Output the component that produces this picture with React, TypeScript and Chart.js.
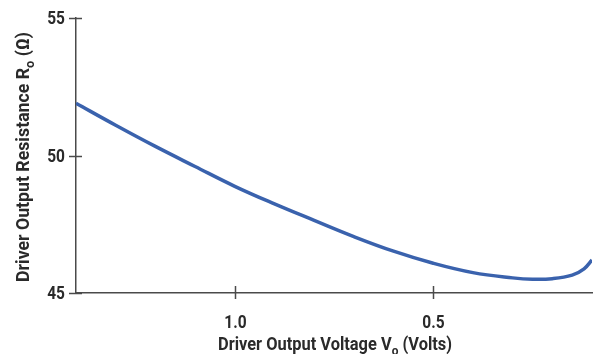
import React, { useEffect, useRef } from "react";
import { Chart, registerables } from "chart.js";

Chart.register(...registerables);

const voltage = [1.4, 1.3, 1.2, 1.1, 1.0, 0.9, 0.8, 0.7, 0.6, 0.5, 0.4, 0.3, 0.25, 0.2, 0.15, 0.12, 0.1];
const resistance = [51.9, 51.1, 50.33, 49.6, 48.88, 48.24, 47.64, 47.05, 46.52, 46.08, 45.74, 45.55, 45.5, 45.52, 45.65, 45.88, 46.2];
const xTicks = [1.0, 0.5];
const yTicks = [45, 50, 55];
const xTitle = [["Driver Output Voltage V", false], ["o", true], [" (Volts)", false]] as [string, boolean][];
const yTitle = [["Driver Output Resistance R", false], ["o", true], [" (Ω)", false]] as [string, boolean][];

const FONT = "Roboto, 'Liberation Sans', sans-serif";
const TEXT = "#2a2a2a";
const AXIS = "#4a4a4a";

function drawRich(ctx: CanvasRenderingContext2D, parts: [string, boolean][], size: number, target: number) {
  const big = `bold ${size}px ${FONT}`;
  const small = `bold ${Math.round(size * 0.72)}px ${FONT}`;
  let total = 0;
  const widths = parts.map(([t, sub]) => {
    ctx.font = sub ? small : big;
    const w = ctx.measureText(t).width;
    total += w;
    return w;
  });
  ctx.scale(target / total, 1);
  let x = -total / 2;
  parts.forEach(([t, sub], i) => {
    ctx.font = sub ? small : big;
    ctx.fillText(t, x, sub ? size * 0.28 : 0);
    x += widths[i];
  });
}

const decorPlugin = {
  id: "decor",
  afterDraw(chart: any) {
    const { ctx, chartArea, scales } = chart;
    ctx.save();
    ctx.strokeStyle = AXIS;
    ctx.lineWidth = 1.5;
    ctx.fillStyle = TEXT;
    xTicks.forEach((v) => {
      const px = Math.round(scales.x.getPixelForValue(v)) + 0.5;
      ctx.beginPath();
      ctx.moveTo(px, chartArea.bottom - 7);
      ctx.lineTo(px, chartArea.bottom + 6);
      ctx.stroke();
      ctx.save();
      ctx.translate(px, 328);
      ctx.scale(0.86, 1);
      ctx.font = `bold 18px ${FONT}`;
      ctx.textAlign = "center";
      ctx.textBaseline = "alphabetic";
      ctx.fillText(v.toFixed(1), 0, 0);
      ctx.restore();
    });
    yTicks.forEach((v) => {
      const py = Math.round(scales.y.getPixelForValue(v)) + 0.5;
      ctx.beginPath();
      ctx.moveTo(chartArea.left - 7, py);
      ctx.lineTo(chartArea.left + 6, py);
      ctx.stroke();
      ctx.save();
      ctx.translate(chartArea.left - 11, py + 1);
      ctx.scale(0.86, 1);
      ctx.font = `bold 18px ${FONT}`;
      ctx.textAlign = "right";
      ctx.textBaseline = "middle";
      ctx.fillText(String(v), 0, 0);
      ctx.restore();
    });
    ctx.textBaseline = "alphabetic";
    ctx.textAlign = "left";
    ctx.save();
    ctx.translate(335, 350);
    drawRich(ctx, xTitle, 18, 234);
    ctx.restore();
    ctx.save();
    ctx.translate(29, 157);
    ctx.rotate(-Math.PI / 2);
    drawRich(ctx, yTitle, 18, 250);
    ctx.restore();
    ctx.restore();
  },
};

export default function App() {
  const ref = useRef<HTMLCanvasElement>(null);
  useEffect(() => {
    const chart = new Chart(ref.current!, {
      type: "line",
      data: {
        datasets: [
          {
            data: voltage.map((v, i) => ({ x: v, y: resistance[i] })),
            borderColor: "#3a62ad",
            borderWidth: 3.5,
            pointRadius: 0,
            tension: 0.4,
            fill: false,
          },
        ],
      },
      options: {
        animation: false,
        responsive: false,
        maintainAspectRatio: false,
        layout: { padding: { top: 18, right: 3, left: 0, bottom: 0 } },
        plugins: { legend: { display: false }, tooltip: { enabled: false } },
        scales: {
          x: {
            type: "linear",
            reverse: true,
            min: 0.1,
            max: 1.4,
            afterBuildTicks: (s: any) => {
              s.ticks = xTicks.map((v) => ({ value: v }));
            },
            afterFit: (s: any) => {
              s.height = 61;
            },
            grid: { display: false, drawTicks: false },
            border: { display: true, color: AXIS, width: 1.5 },
            ticks: { display: false },
          },
          y: {
            min: 45,
            max: 55,
            afterBuildTicks: (s: any) => {
              s.ticks = yTicks.map((v) => ({ value: v }));
            },
            afterFit: (s: any) => {
              s.width = 76;
            },
            grid: { display: false, drawTicks: false },
            border: { display: true, color: AXIS, width: 1.5 },
            ticks: { display: false },
          },
        },
      },
      plugins: [decorPlugin],
    } as any);
    return () => chart.destroy();
  }, []);
  return (
    <div style={{ position: "absolute", left: 0, top: 0, width: 595, height: 354, background: "#fff" }}>
      <canvas ref={ref} width={595} height={354} style={{ width: 595, height: 354, display: "block" }} />
    </div>
  );
}
